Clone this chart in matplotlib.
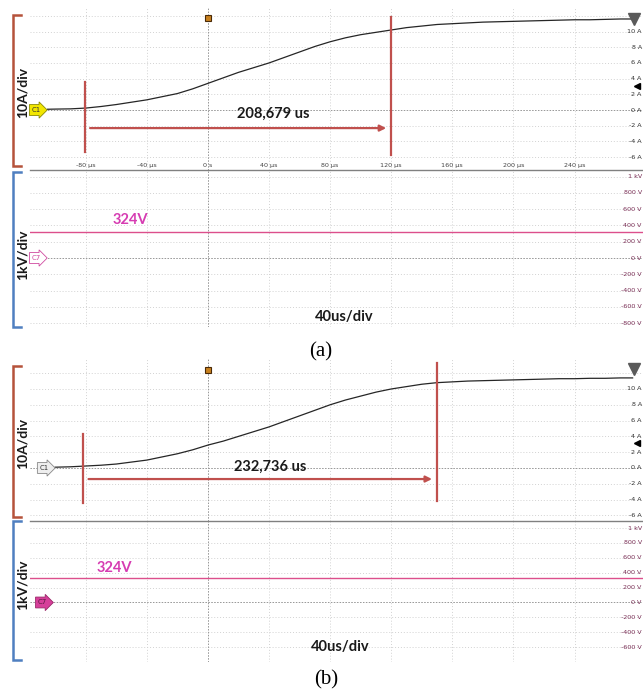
import numpy as np
import matplotlib
matplotlib.use('Agg')
from matplotlib import pyplot as plt
from matplotlib.lines import Line2D
import matplotlib.transforms as mtransforms


# Scope time base (us), 40us/div
time_range = [-116.5, 284.8]
time_ticks = [-80, -40, 0, 40, 80, 120, 160, 200, 240]
time_labels = ['-80 µs', '-40 µs', '0 s', '40 µs', '80 µs', '120 µs', '160 µs', '200 µs', '240 µs']

# Channel scales written on the right of the screen
amp_ticks = [-6, -4, -2, 0, 2, 4, 6, 8, 10]
amp_labels = ['-6 A', '-4 A', '-2 A', '0 A', '2 A', '4 A', '6 A', '8 A', '10 A']
volt_ticks = [-800, -600, -400, -200, 0, 200, 400, 600, 800, 1000]
volt_labels = ['-800 V', '-600 V', '-400 V', '-200 V', '0 V', '200 V', '400 V', '600 V', '800 V', '1 kV']

# Current trace (a)
t_a = [-105, -100, -90, -80, -70, -60, -50, -40, -30, -20, -10, 0, 10, 20, 30, 40, 50, 60, 70, 80,
       90, 100, 110, 120, 130, 140, 150, 160, 170, 180, 190, 200, 210, 220, 230, 240, 250, 260, 270, 278]
i_a = [0.1, 0.12, 0.15, 0.25, 0.45, 0.7, 1.0, 1.3, 1.7, 2.1, 2.7, 3.4, 4.1, 4.8, 5.4, 6.0, 6.7, 7.4, 8.1, 8.7,
       9.2, 9.6, 9.9, 10.2, 10.5, 10.7, 10.9, 11.0, 11.1, 11.2, 11.25, 11.3, 11.35, 11.4, 11.45, 11.5, 11.5, 11.55, 11.6, 11.6]

# Current trace (b)
t_b = [-100, -90, -80, -70, -60, -50, -40, -30, -20, -10, 0, 10, 20, 30, 40, 50, 60, 70, 80,
       90, 100, 110, 120, 130, 140, 150, 160, 170, 180, 190, 200, 210, 220, 230, 240, 250, 260, 270, 278]
i_b = [0.1, 0.15, 0.25, 0.35, 0.5, 0.75, 1.0, 1.4, 1.8, 2.3, 2.9, 3.4, 4.0, 4.6, 5.2, 5.9, 6.6, 7.3, 8.0,
       8.6, 9.1, 9.6, 10.0, 10.3, 10.6, 10.8, 10.9, 11.0, 11.05, 11.1, 11.15, 11.2, 11.25, 11.3, 11.3, 11.35, 11.35, 11.4, 11.4]

# DC link voltage (flat)
v_level = 324

# Cursors (us) and their vertical extent (A)
cursors_a = [-80.5, 120.0]
cursor_span_a = [(-5.35, 3.6), (-5.7, 11.85)]
arrow_level_a = -2.3
cursors_b = [-81.5, 150.0]
cursor_span_b = [(-4.4, 4.3), (-4.2, 13.3)]
arrow_level_b = -1.4
delta_a = '208,679 us'
delta_b = '232,736 us'

W, H = 643, 694
RED = '#c0504d'
BROWN = '#b5523b'
BLUE = '#4f7fc0'
MAGENTA = '#d63cb2'
VLINE = '#dc4f8c'


def fx(px):
    return px / W


def fy(py):
    return 1 - py / H


def style_axes(ax, yticks):
    ax.set_xlim(time_range)
    ax.set_xticks(time_ticks)
    ax.set_yticks(yticks)
    ax.tick_params(which='both', length=0, labelbottom=False, labelleft=False)
    for s in ax.spines.values():
        s.set_visible(False)
    ax.grid(True, color='#d2d2d2', ls=(0, (1, 2)), lw=0.7)
    ax.axvline(0, color='#999999', ls=(0, (1.5, 1.5)), lw=0.7)
    ax.axhline(0, color='#999999', ls=(0, (1.5, 1.5)), lw=0.7)


def right_labels(ax, ticks, labels, color):
    trans = mtransforms.blended_transform_factory(ax.transAxes, ax.transData)
    lo, hi = ax.get_ylim()
    for val, lab in zip(ticks, labels):
        if lo < val < hi:
            ax.text(0.998, val, lab, transform=trans, ha='right', va='center',
                    fontsize=4.6, color=color)


def tag(ax, xfrac, text, fc, ec, tc):
    trans = mtransforms.blended_transform_factory(ax.transAxes, ax.transData)
    ax.text(xfrac, 0, text, transform=trans, ha='left', va='center', fontsize=5, color=tc,
            bbox=dict(boxstyle='rarrow,pad=0.35', fc=fc, ec=ec, lw=0.6), zorder=5)


def scope_panel(top, mid, bot, ylim_i, ylim_v, t, cur, tags, trig_y, show_time):
    ax_i = fig.add_axes([fx(30), fy(mid), fx(643) - fx(30), fy(top) - fy(mid)])
    ax_v = fig.add_axes([fx(30), fy(bot), fx(643) - fx(30), fy(mid) - fy(bot)])
    ax_i.set_ylim(ylim_i)
    ax_v.set_ylim(ylim_v)
    style_axes(ax_i, range(-6, 14, 2))
    style_axes(ax_v, range(-800, 1001, 200))
    ax_v.spines['top'].set_visible(True)
    ax_v.spines['top'].set_color('#808080')
    ax_v.spines['top'].set_linewidth(1.0)

    # Traces
    ax_i.plot(t, cur, color='#262626', lw=0.9, zorder=4)
    ax_v.plot(time_range, [v_level, v_level], color=VLINE, lw=1.0, zorder=4)

    right_labels(ax_i, amp_ticks, amp_labels, '#333333')
    right_labels(ax_v, volt_ticks, volt_labels, '#7a2e55')

    if show_time:
        trans = mtransforms.blended_transform_factory(ax_i.transData, ax_i.transAxes)
        for val, lab in zip(time_ticks, time_labels):
            ax_i.text(val, 0.03, lab, transform=trans, ha='center', va='center',
                      fontsize=4.6, color='#444444')

    # Channel tags
    tag(ax_i, tags[0], 'C1', *tags[2])
    tag(ax_v, tags[1], 'C7', *tags[3])

    # Trigger marker, offset arrow and top-right indicator
    trans = mtransforms.blended_transform_factory(ax_i.transData, ax_i.transAxes)
    ax_i.plot([0], [trig_y], transform=trans, marker='s', ms=4.5, mfc='#c8811f',
              mec='#4a2a08', mew=0.8, clip_on=False, zorder=6)
    ax_i.plot([0.99], [3.1], transform=mtransforms.blended_transform_factory(ax_i.transAxes, ax_i.transData),
              marker='<', ms=4, color='black', clip_on=False, zorder=6)
    ax_i.plot([0.985], [0.93], transform=ax_i.transAxes, marker='v', ms=9, color='#5a5a5a',
              clip_on=False, zorder=6)
    return ax_i, ax_v


def cursors(ax, cur, spans, level, label, lx, ly):
    for c, (lo, hi) in zip(cur, spans):
        ax.plot([c, c], [lo, hi], color=RED, lw=1.6, zorder=7)
    ax.annotate('', xy=(cur[1] - 1.5, level), xytext=(cur[0] + 1.5, level),
                arrowprops=dict(arrowstyle='-|>', color=RED, lw=1.6, mutation_scale=9), zorder=7)
    ax.text(lx, ly, label, ha='center', va='center', fontsize=10.5, fontweight='bold',
            family='Lato', color='#1a1a1a', zorder=8)


def bracket(x, y0, y1, color):
    xs = [fx(x + 8), fx(x), fx(x), fx(x + 8)]
    ys = [fy(y0), fy(y0), fy(y1), fy(y1)]
    fig.add_artist(Line2D(xs, ys, color=color, lw=1.8, solid_joinstyle='miter'))


fig = plt.figure(figsize=(W / 100, H / 100), dpi=100, facecolor='white')

# Panel (a)
ai, av = scope_panel(8, 170, 327, (-7.64, 13.0), (-846.6, 1079.8), t_a, i_a,
                     (0.003, 0.003, ('#f2e600', '#8a8a00', '#333333'), ('white', '#d04aa0', '#d04aa0')),
                     0.938, True)
cursors(ai, cursors_a, cursor_span_a, arrow_level_a, delta_a, 42.6, -0.5)

# Panel (b)
bi, bv = scope_panel(358, 521, 662, (-6.71, 13.92), (-700.6, 1095.5), t_b, i_b,
                     (0.016, 0.013, ('#eeeeee', '#888888', '#333333'), ('#d63f9a', '#9a2a6a', '#5a1a40')),
                     0.926, False)
cursors(bi, cursors_b, cursor_span_b, arrow_level_b, delta_b, 40.7, 0.1)

# Brackets and scale labels on the left
bracket(13, 15, 166, BROWN)
bracket(13, 172, 327, BLUE)
bracket(13, 366, 517, BROWN)
bracket(13, 521, 660, BLUE)
for y, lab in [(92, '10A/div'), (255, '1kV/div'), (443, '10A/div'), (585, '1kV/div')]:
    fig.text(fx(23), fy(y), lab, rotation=90, ha='center', va='center', fontsize=10,
             fontweight='bold', family='Lato', color='#1a1a1a')

# Voltage value and time base
for x, y in [(130, 220), (114, 568)]:
    fig.text(fx(x), fy(y), '324V', ha='center', va='center', fontsize=10.5,
             fontweight='bold', family='Lato', color=MAGENTA)
for x, y in [(344, 317), (340, 647)]:
    fig.text(fx(x), fy(y), '40us/div', ha='center', va='center', fontsize=10.5,
             fontweight='bold', family='Lato', color='#1a1a1a')

# Subfigure captions
fig.text(fx(321), fy(352), '(a)', ha='center', va='center', fontsize=15, family='Liberation Serif')
fig.text(fx(326), fy(680), '(b)', ha='center', va='center', fontsize=15, family='Liberation Serif')

fig.savefig('out.png', dpi=100, facecolor='white')
